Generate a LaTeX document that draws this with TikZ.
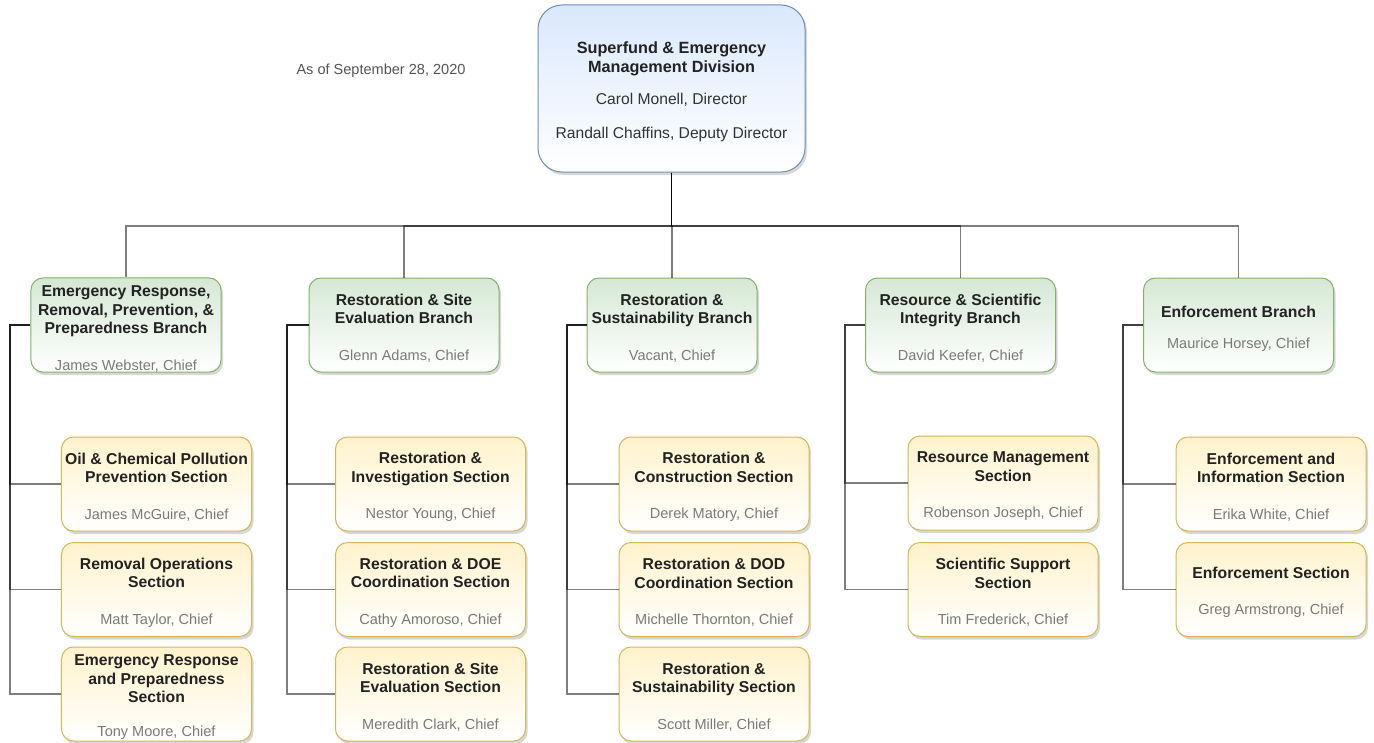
\documentclass[tikz,border=0pt]{standalone}
\usepackage{fontspec}
\setmainfont{Liberation Sans}
\usetikzlibrary{shadows}

\definecolor{divfill}{HTML}{DAE8FC}
\definecolor{divline}{HTML}{6C8EBF}
\definecolor{brfill}{HTML}{D5E8D4}
\definecolor{brline}{HTML}{82B366}
\definecolor{secfill}{HTML}{FFF2CC}
\definecolor{secline}{HTML}{D6B656}
\definecolor{titletext}{HTML}{222222}
\definecolor{nametext}{HTML}{7A7A7A}
\definecolor{divtext}{HTML}{333333}
\definecolor{notetext}{HTML}{555555}

% person line under a unit title
\newcommand{\who}[1]{{\mdseries\color{nametext}\fontsize{14.6}{18.5}\selectfont #1}}
% regular line inside the division box
\newcommand{\divline}[1]{{\mdseries\color{divtext}\fontsize{15.7}{18.5}\selectfont #1}}
% taller first line, so the text block sits a little lower in its box
\newcommand{\lead}{\rule{0pt}{17.5bp}}

\tikzset{
  unit/.style={draw, line width=1bp, align=center, inner sep=0pt, text=titletext,
    font=\bfseries\fontsize{15.8}{18.5}\selectfont,
    drop shadow={shadow xshift=2bp, shadow yshift=-3bp, opacity=0.22, fill=black!70}},
  divbox/.style={unit, rounded corners=24bp, top color=divfill, bottom color=white,
    draw=divline, minimum width=267bp, minimum height=167bp,
    font=\bfseries\fontsize{16.3}{18.5}\selectfont},
  branchbox/.style={unit, rounded corners=12bp, top color=brfill, bottom color=white,
    draw=brline, minimum width=190bp, minimum height=94bp},
  secbox/.style={unit, rounded corners=12bp, top color=secfill, bottom color=white,
    draw=secline, minimum width=190bp, minimum height=94bp},
  link/.style={draw=black, line width=1.2bp, draw opacity=0.5}
}

\begin{document}
\begin{tikzpicture}[x=1bp, y=-1bp]
\useasboundingbox[fill=white] (0,0) rectangle (1374,742);

% date note
\node[font=\fontsize{14.6}{17}\selectfont, text=notetext, inner sep=0pt] (asof) at (381,71) {As of September 28, 2020};

% division
\node[divbox] (div) at (671.5,88.5)
  {\rule{0pt}{18bp}Superfund \& Emergency\\Management Division\\[14bp]\divline{Carol Monell, Director}\\[15bp]\divline{Randall Chaffins, Deputy Director}};

% branches
\node[branchbox] (b1) at (126,325) {\rule{0pt}{19bp}Emergency Response,\\Removal, Prevention, \&\\Preparedness Branch\\[18bp]\who{James Webster, Chief}};
\node[branchbox] (b2) at (404,325) {\lead Restoration \& Site\\Evaluation Branch\\[18bp]\who{Glenn Adams, Chief}};
\node[branchbox, minimum width=170bp] (b3) at (672,325) {\lead Restoration \&\\Sustainability Branch\\[18bp]\who{Vacant, Chief}};
\node[branchbox] (b4) at (960.5,325) {\lead Resource \& Scientific\\Integrity Branch\\[18bp]\who{David Keefer, Chief}};
\node[branchbox] (b5) at (1238.5,325) {\rule{0pt}{19.5bp}Enforcement Branch\\[13bp]\who{Maurice Horsey, Chief}};

% sections
\node[secbox] (s11) at (156.5,484) {\lead Oil \& Chemical Pollution\\Prevention Section\\[18bp]\who{James McGuire, Chief}};
\node[secbox] (s12) at (156.5,589.5) {\lead Removal Operations\\Section\\[18bp]\who{Matt Taylor, Chief}};
\node[secbox] (s13) at (156.5,694) {\lead Emergency Response\\and Preparedness\\Section\\[16bp]\who{Tony Moore, Chief}};

\node[secbox] (s21) at (430.5,484) {\lead Restoration \&\\Investigation Section\\[18bp]\who{Nestor Young, Chief}};
\node[secbox] (s22) at (430.5,589.5) {\lead Restoration \& DOE\\Coordination Section\\[18bp]\who{Cathy Amoroso, Chief}};
\node[secbox] (s23) at (430.5,694) {\lead Restoration \& Site\\Evaluation Section\\[18bp]\who{Meredith Clark, Chief}};

\node[secbox] (s31) at (714,484) {\lead Restoration \&\\Construction Section\\[18bp]\who{Derek Matory, Chief}};
\node[secbox] (s32) at (714,589.5) {\lead Restoration \& DOD\\Coordination Section\\[18bp]\who{Michelle Thornton, Chief}};
\node[secbox] (s33) at (714,694) {\lead Restoration \&\\Sustainability Section\\[18bp]\who{Scott Miller, Chief}};

\node[secbox] (s41) at (1003,483) {\lead Resource Management\\Section\\[18bp]\who{Robenson Joseph, Chief}};
\node[secbox] (s42) at (1003,589.5) {\lead Scientific Support\\Section\\[18bp]\who{Tim Frederick, Chief}};

\node[secbox] (s51) at (1271,484) {\lead Enforcement and\\Information Section\\[18bp]\who{Erika White, Chief}};
\node[secbox] (s52) at (1271,589.5) {\lead Enforcement Section\\[18bp]\who{Greg Armstrong, Chief}};

% junction under the division and the trunks beside each branch
\coordinate (j) at (671.5,226);
\coordinate (t1) at (10,0);
\coordinate (t2) at (287,0);
\coordinate (t3) at (567,0);
\coordinate (t4) at (845,0);
\coordinate (t5) at (1123,0);

% division to branches
\foreach \b in {b1,b2,b3,b4,b5}
  \draw[link] (div.south) -- (j) -| (\b.north);

% branches to sections
\foreach \b/\t/\s in {b1/t1/s11, b1/t1/s12, b1/t1/s13,
                      b2/t2/s21, b2/t2/s22, b2/t2/s23,
                      b3/t3/s31, b3/t3/s32, b3/t3/s33,
                      b4/t4/s41, b4/t4/s42,
                      b5/t5/s51, b5/t5/s52}
  \draw[link] (\b.west) -| (\t |- \s.west) -- (\s.west);
\end{tikzpicture}
\end{document}
